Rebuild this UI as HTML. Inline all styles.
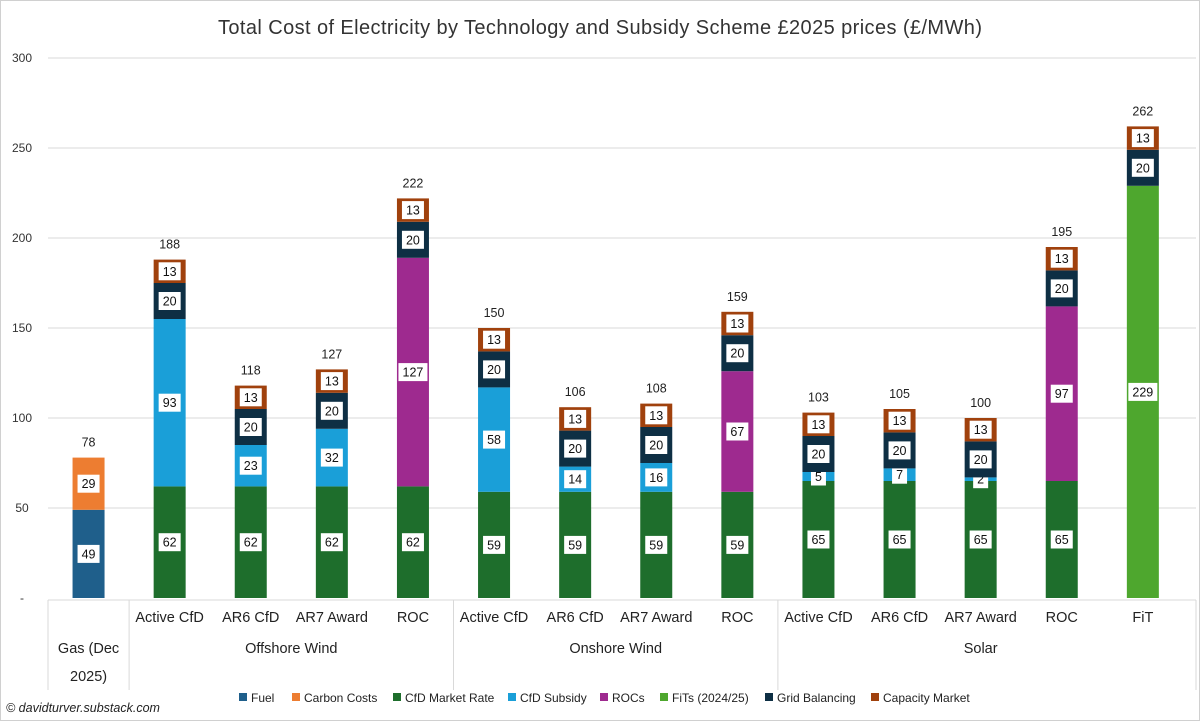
<!DOCTYPE html>
<html><head><meta charset="utf-8"><style>
html,body{margin:0;padding:0;background:#fff}
svg{display:block;font-family:"Liberation Sans",sans-serif}
</style></head><body>
<svg id="chart" width="1200" height="721" viewBox="0 0 1200 721">
<rect x="0.5" y="0.5" width="1199" height="720" fill="#fff" stroke="#d0d0d0"/>
<text x="600" y="34" text-anchor="middle" font-size="20" fill="#333" textLength="764">Total Cost of Electricity by Technology and Subsidy Scheme £2025 prices (£/MWh)</text>
<g id="grid"></g><g id="bars"></g><g id="xaxis"></g><g id="legend"></g>
<text x="6" y="712" font-size="12.5" font-style="italic" fill="#222">© davidturver.substack.com</text>
</svg>
<script>
const categories = ["Gas (Dec 2025)","Active CfD","AR6 CfD","AR7 Award","ROC","Active CfD","AR6 CfD","AR7 Award","ROC","Active CfD","AR6 CfD","AR7 Award","ROC","FiT"];
const groups = [["",0,0],["Offshore Wind",1,4],["Onshore Wind",5,8],["Solar",9,13]];
const seriesNames = ["Fuel","Carbon Costs","CfD Market Rate","CfD Subsidy","ROCs","FiTs (2024/25)","Grid Balancing","Capacity Market"];
const seriesColors = ["#1f5f8b","#ed7d31","#1e6e2c","#1a9fd8","#9e2a8f","#4ea72e","#0e2f44","#a0410d"];
const fuel =     [49,0,0,0,0,0,0,0,0,0,0,0,0,0];
const carbon =   [29,0,0,0,0,0,0,0,0,0,0,0,0,0];
const cfdMarket =[0,62,62,62,62,59,59,59,59,65,65,65,65,0];
const cfdSubsidy=[0,93,23,32,0,58,14,16,0,5,7,2,0,0];
const rocs =     [0,0,0,0,127,0,0,0,67,0,0,0,97,0];
const fits =     [0,0,0,0,0,0,0,0,0,0,0,0,0,229];
const grid =     [0,20,20,20,20,20,20,20,20,20,20,20,20,20];
const capacity = [0,13,13,13,13,13,13,13,13,13,13,13,13,13];
const totals =   [78,188,118,127,222,150,106,108,159,103,105,100,195,262];
const yTicks = [0,50,100,150,200,250,300];
const yTickLabels = ["-","50","100","150","200","250","300"];

const series=[fuel,carbon,cfdMarket,cfdSubsidy,rocs,fits,grid,capacity];
const NS="http://www.w3.org/2000/svg";
const L=48,R=1196,Y0=598,Y300=58;
const slot=81.1, bw=32;
const y=v=>Y0-(Y0-Y300)*v/300;
const xc=i=>L+slot*(i+0.5);
function mk(t,a,p,txt){const e=document.createElementNS(NS,t);for(const k in a)e.setAttribute(k,a[k]);if(txt!==undefined)e.textContent=txt;p.appendChild(e);return e;}
const G=document.getElementById('grid'),B=document.getElementById('bars'),X=document.getElementById('xaxis'),LG=document.getElementById('legend');
yTicks.forEach((t,i)=>{
 if(t>0){const ln=mk('line',{x1:L,x2:R,y1:y(t),y2:y(t),stroke:'#d9d9d9','stroke-width':1},G);
 
 }
 const tx=mk('text',{x:22,y:y(t)+4,'text-anchor':'middle','font-size':12,fill:'#333'},G,yTickLabels[i]);
 
 
});
categories.forEach((c,i)=>{
 let acc=0;
 series.forEach((s,k)=>{
  const v=s[i]; if(!v)return;
  const r=mk('rect',{x:xc(i)-bw/2,y:y(acc+v),width:bw,height:y(acc)-y(acc+v),fill:seriesColors[k]},B);
  
  
  const my=(y(acc)+y(acc+v))/2;const s2=String(v);const w=s2.length*7+8;
  const lb=mk('rect',{x:xc(i)-w/2,y:my-9,width:w,height:18,fill:'#fff'},B);
  
  
  const t=mk('text',{x:xc(i),y:my+4.5,'text-anchor':'middle','font-size':12.5,fill:'#111'},B,s2);
  
  
  acc+=v;
 });
 const tt=mk('text',{x:xc(i),y:y(totals[i])-11,'text-anchor':'middle','font-size':12.5,fill:'#222'},B,String(totals[i]));
 
 
 if(i>0){const cl=mk('text',{x:xc(i),y:622,'text-anchor':'middle','font-size':14.5,fill:'#222'},X,c);
 
 }
});
mk('line',{x1:L,x2:R,y1:Y0+2,y2:Y0+2,stroke:'#d9d9d9'},X);
const g0=mk('text',{x:xc(0),y:653,'text-anchor':'middle','font-size':14.5,fill:'#222'},X,'Gas (Dec');


mk('text',{x:xc(0),y:681,'text-anchor':'middle','font-size':14.5,fill:'#222'},X,'2025)');
[L,L+slot,L+slot*5,L+slot*9,R].forEach(xx=>{
 const s=mk('line',{x1:xx,x2:xx,y1:Y0+2,y2:690,stroke:'#d9d9d9'},X);
 
 
});
groups.slice(1).forEach(g=>{
 const gt=mk('text',{x:(xc(g[1])+xc(g[2]))/2,y:653,'text-anchor':'middle','font-size':14.5,fill:'#222'},X,g[0]);
 
 
});
const lx=[239,292,393,508,600,660,765,871];
seriesNames.forEach((n,k)=>{
 const sw=mk('rect',{x:lx[k],y:693,width:8,height:8,fill:seriesColors[k]},LG);
 
 
 const t=mk('text',{x:lx[k]+12,y:702,'font-size':12,fill:'#222'},LG,n);
 
 
});
</script>
</body></html>
